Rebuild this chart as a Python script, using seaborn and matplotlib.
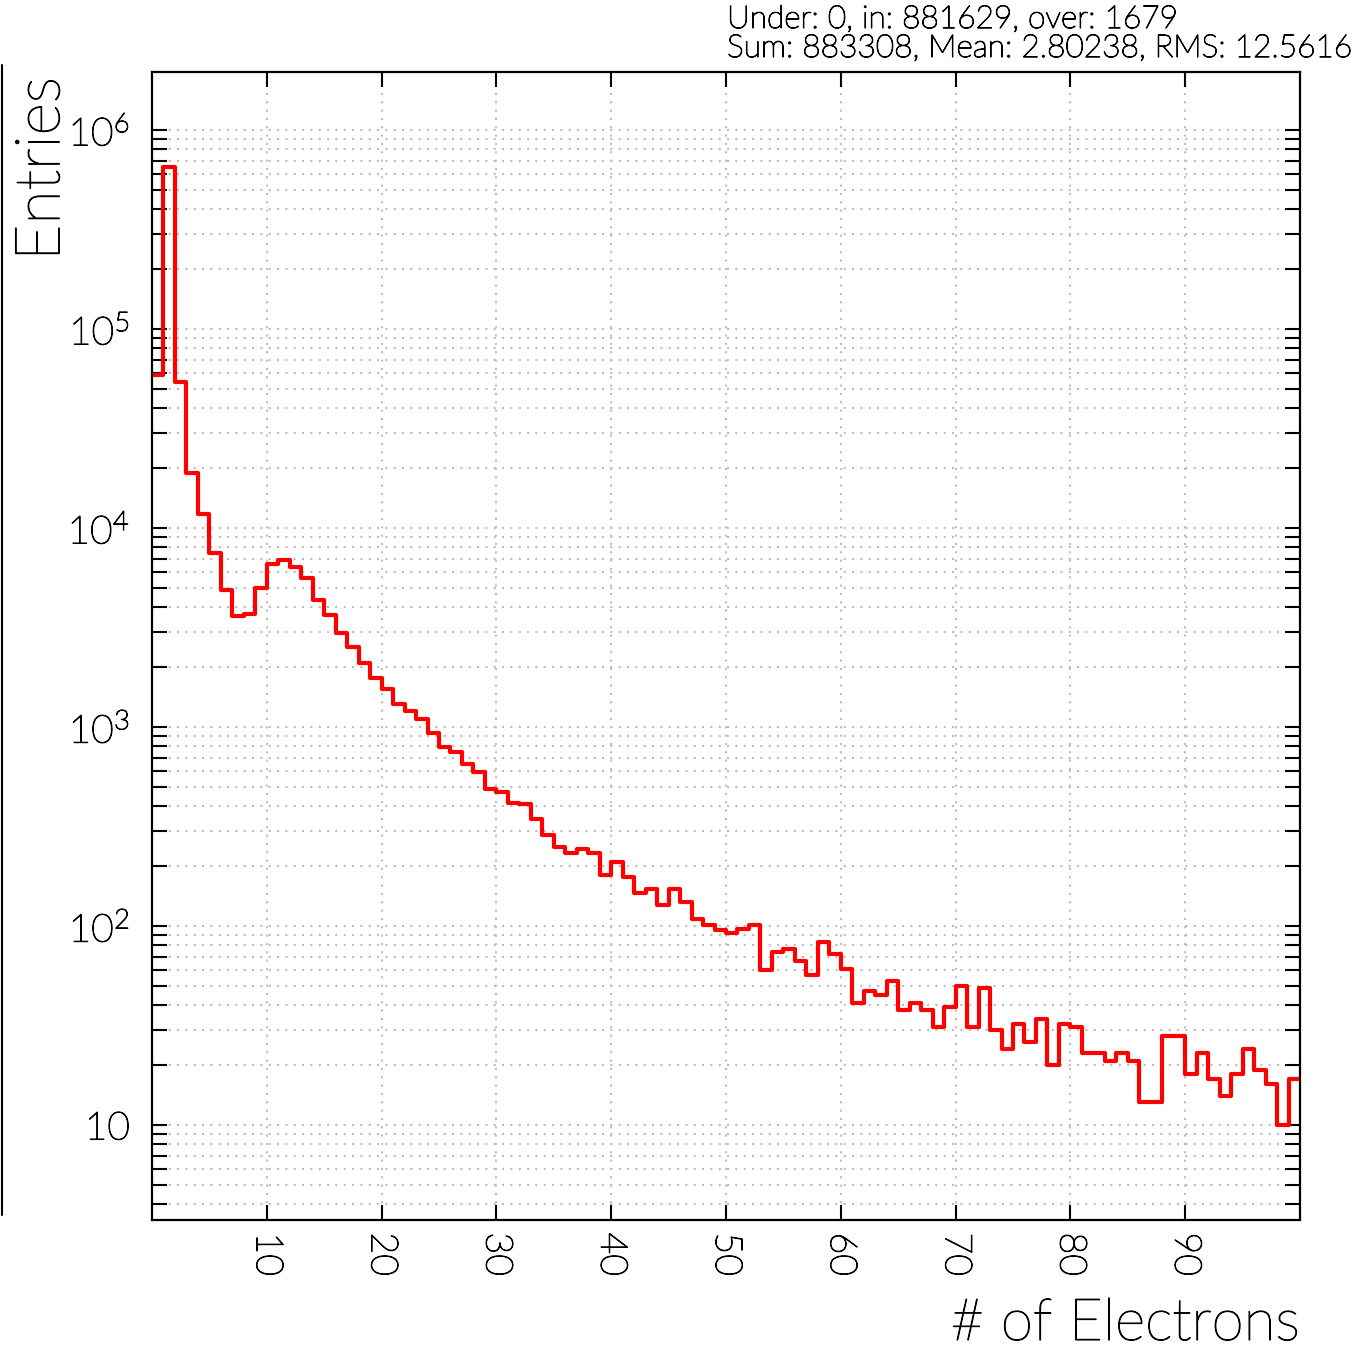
import numpy as np
import pandas as pd
import matplotlib
matplotlib.use("Agg")
import matplotlib.pyplot as plt
import matplotlib.patheffects as pe
from matplotlib.lines import Line2D
from matplotlib.ticker import LogLocator, FuncFormatter, NullFormatter
import seaborn as sns

# histogram contents, one bin per electron count (0..99)
bin_edges = list(range(0, 101))
entries = [
    58700, 652000, 54000, 18960, 11720, 7470, 4875, 3610, 3680, 5010,
    6590, 6900, 6350, 5590, 4340, 3650, 2980, 2530, 2090, 1760,
    1545, 1300, 1203, 1093, 931, 792, 748, 651, 592, 488,
    473, 417, 410, 345, 287, 250, 232, 243, 232, 180,
    209, 177, 146, 154, 127, 154, 132, 108, 101, 95,
    92, 97, 101, 60, 74, 77, 67, 57, 83, 72,
    61, 41, 47, 45, 53, 38, 41, 38, 31, 39,
    50, 31, 49, 30, 24, 32, 26, 34, 20, 32,
    31, 23, 23, 21, 23, 21, 13, 13, 28, 28,
    18, 23, 17, 14, 18, 24, 19, 16, 10, 17,
]
x_ticks = [10, 20, 30, 40, 50, 60, 70, 80, 90]
stats_line1 = "Under: 0, in: 881629, over: 1679"
stats_line2 = "Sum: 883308, Mean: 2.80238, RMS: 12.5616"

sns.set_style("white")
plt.rcParams['font.family'] = ['Lato', 'DejaVu Sans']
plt.rcParams['font.weight'] = 'light'
plt.rcParams['text.color'] = 'black'
plt.rcParams['xtick.color'] = 'black'
plt.rcParams['ytick.color'] = 'black'

centers = [e + 0.5 for e in bin_edges[:-1]]
df = pd.DataFrame({"electrons": centers, "entries": entries})

fig = plt.figure(figsize=(13.61, 13.48), dpi=100)
ax = fig.add_axes([152 / 1361, 1 - 1220 / 1348, 1148 / 1361, 1148 / 1348])

sns.histplot(data=df, x="electrons", weights="entries", bins=bin_edges,
             element="step", fill=False, color="#ff0000", linewidth=3.0, ax=ax)
ax.set_yscale("log")
ax.set_xlim(0, 100)
ax.set_ylim(3.33, 1.957e6)
ax.set_xlabel("")
ax.set_ylabel("")

# ticks
ax.set_xticks(x_ticks)
ax.yaxis.set_major_locator(LogLocator(base=10, numticks=20))
ax.yaxis.set_minor_locator(LogLocator(base=10, subs=np.arange(2, 10), numticks=50))
def fmt(v, pos):
    k = int(round(np.log10(v)))
    if k == 1:
        return "10"
    return r"$\mathregular{10^{%d}}$" % k
ax.yaxis.set_major_formatter(FuncFormatter(fmt))
ax.yaxis.set_minor_formatter(NullFormatter())

ax.tick_params(axis="x", which="major", direction="in", top=True, bottom=True,
               length=11, width=1.5, labelsize=27, pad=9, labelrotation=-90,
               colors="black")
ax.tick_params(axis="x", which="minor", bottom=False, top=False)
ax.tick_params(axis="y", which="both", direction="in", left=True, right=True,
               length=11, width=1.5, labelsize=28, pad=16, colors="black")

ax.grid(True, which="both", axis="y", color="#bdbdbd", linestyle=(0, (1, 3)), linewidth=1.5)
ax.grid(True, which="major", axis="x", color="#bdbdbd", linestyle=(0, (1, 3)), linewidth=1.5)
for s in ax.spines.values():
    s.set_color("black")
    s.set_linewidth(1.6)

fig.text(42 / 1361, 1 - 77 / 1348, "Entries", rotation=90, ha="center", va="top", fontsize=45)
fig.text(1300 / 1361, 1 - 1340 / 1348, "# of Electrons", ha="right", va="baseline", fontsize=42)
fig.text(727 / 1361, 1 - 28 / 1348, stats_line1, ha="left", va="baseline", fontsize=22.8)
fig.text(727 / 1361, 1 - 57 / 1348, stats_line2, ha="left", va="baseline", fontsize=22.8)

# edge of the neighbouring pad on the left
fig.add_artist(Line2D([2 / 1361, 2 / 1361], [1 - 65 / 1348, 1 - 1215 / 1348], color="black", lw=1.5))

# thicken the light font a bit so it reads like the thin ROOT font
fig.canvas.draw()
stroke = [pe.withStroke(linewidth=0.8, foreground="black")]
for t in fig.texts + ax.get_xticklabels() + ax.get_yticklabels():
    t.set_path_effects(stroke)

fig.savefig("out.png", dpi=100)
